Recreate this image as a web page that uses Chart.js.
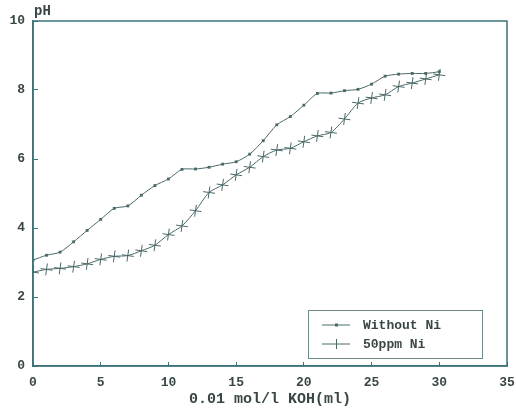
<!DOCTYPE html>
<html>
<head>
<meta charset="utf-8">
<script src="https://cdn.jsdelivr.net/npm/chart.js@4.4.0/dist/chart.umd.min.js"></script>
<style>
  html, body { margin: 0; padding: 0; background: #fff; }
  #wrap { width: 516px; height: 408px; }
</style>
</head>
<body>
<div id="wrap"><canvas id="phChart" width="516" height="408"></canvas></div>
<script>
const koh = [0, 1, 2, 3, 4, 5, 6, 7, 8, 9, 10, 11, 12, 13, 14, 15, 16, 17, 18, 19, 20, 21, 22, 23, 24, 25, 26, 27, 28, 29, 30];
const withoutNi = [3.07, 3.21, 3.30, 3.60, 3.93, 4.25, 4.57, 4.64, 4.95, 5.23, 5.42, 5.70, 5.71, 5.76, 5.85, 5.92,
                   6.14, 6.53, 6.99, 7.23, 7.56, 7.90, 7.91, 7.98, 8.02, 8.17, 8.40, 8.46, 8.48, 8.48, 8.53];
const ni50 = [2.72, 2.80, 2.83, 2.88, 2.96, 3.09, 3.18, 3.20, 3.34, 3.50, 3.81, 4.06, 4.50, 5.03, 5.25, 5.54,
              5.76, 6.07, 6.26, 6.31, 6.50, 6.67, 6.77, 7.16, 7.62, 7.77, 7.86, 8.10, 8.20, 8.32, 8.44];
const seriesNames = ['Without Ni', '50ppm Ni'];

const axisColor = '#3c7378';
const lineColor = '#4a6868';
const textColor = '#3a4646';
const monoFont = '"Liberation Mono", "DejaVu Sans Mono", monospace';

const toPoints = ys => koh.map((x, i) => ({ x: x, y: ys[i] }));

// box round the plot, "pH" label and the legend inside the plot
const extras = {
    id: 'extras',
    afterDraw(chart) {
        const c = chart.ctx;
        const a = chart.chartArea;
        c.save();
        c.strokeStyle = axisColor;
        c.lineWidth = 1.5;
        c.strokeRect(a.left, a.top, a.right - a.left, a.bottom - a.top);

        c.fillStyle = textColor;
        c.font = 'bold 14px ' + monoFont;
        c.textBaseline = 'alphabetic';
        c.textAlign = 'left';
        c.fillText('pH', a.left + 1, a.top - 6);

        // legend
        const bx = 308, by = 310, bw = 174, bh = 48;
        c.strokeStyle = '#6c8a8a';
        c.lineWidth = 1;
        c.strokeRect(bx + 0.5, by + 0.5, bw, bh);
        const rows = [by + 15, by + 34];
        c.font = 'bold 13px ' + monoFont;
        c.textBaseline = 'middle';
        rows.forEach((ry, i) => {
            c.strokeStyle = lineColor;
            c.lineWidth = 1;
            c.beginPath();
            c.moveTo(bx + 14, ry);
            c.lineTo(bx + 42, ry);
            c.stroke();
            if (i === 0) {
                c.fillStyle = lineColor;
                c.fillRect(bx + 27, ry - 1.5, 3, 3);
            } else {
                c.beginPath();
                c.moveTo(bx + 28.5, ry - 5);
                c.lineTo(bx + 28.5, ry + 5);
                c.stroke();
            }
            c.fillStyle = textColor;
            c.fillText(seriesNames[i], bx + 55, ry + 1);
        });
        c.restore();
    }
};

new Chart(document.getElementById('phChart').getContext('2d'), {
    type: 'line',
    data: {
        datasets: [{
            label: seriesNames[0],
            data: toPoints(withoutNi),
            borderColor: lineColor,
            backgroundColor: lineColor,
            borderWidth: 1,
            pointStyle: 'rect',
            pointRadius: 2,
            pointBorderWidth: 0,
            tension: 0.25
        }, {
            label: seriesNames[1],
            data: toPoints(ni50),
            borderColor: lineColor,
            backgroundColor: lineColor,
            borderWidth: 1,
            pointStyle: 'cross',
            pointRadius: 6,
            pointRotation: 8,
            pointBorderWidth: 1,
            tension: 0.25
        }]
    },
    options: {
        responsive: false,
        animation: false,
        layout: { padding: { left: 0, right: 9, top: 21, bottom: 0 } },
        plugins: {
            legend: { display: false },
            tooltip: { enabled: false }
        },
        scales: {
            x: {
                type: 'linear',
                min: 0,
                max: 35,
                afterFit: s => { s.height = 42; s.paddingRight = 0; s.paddingLeft = 0; },
                border: { color: axisColor, width: 1.5 },
                grid: { drawOnChartArea: false, drawTicks: true, tickLength: -4, color: axisColor },
                ticks: { stepSize: 5, padding: 13, color: textColor, font: { family: monoFont, size: 13, weight: 'bold' } },
                title: {
                    display: true,
                    text: '0.01 mol/l KOH(ml)',
                    color: textColor,
                    padding: { top: 0, bottom: 0 },
                    font: { family: monoFont, size: 15, weight: 'bold' }
                }
            },
            y: {
                min: 0,
                max: 10,
                afterFit: s => { s.width = 33; },
                border: { color: axisColor, width: 1.5 },
                grid: { drawOnChartArea: false, drawTicks: true, tickLength: -5, color: axisColor },
                ticks: { stepSize: 2, padding: 13, color: textColor, font: { family: monoFont, size: 13, weight: 'bold' } }
            }
        }
    },
    plugins: [extras]
});
</script>
</body>
</html>
